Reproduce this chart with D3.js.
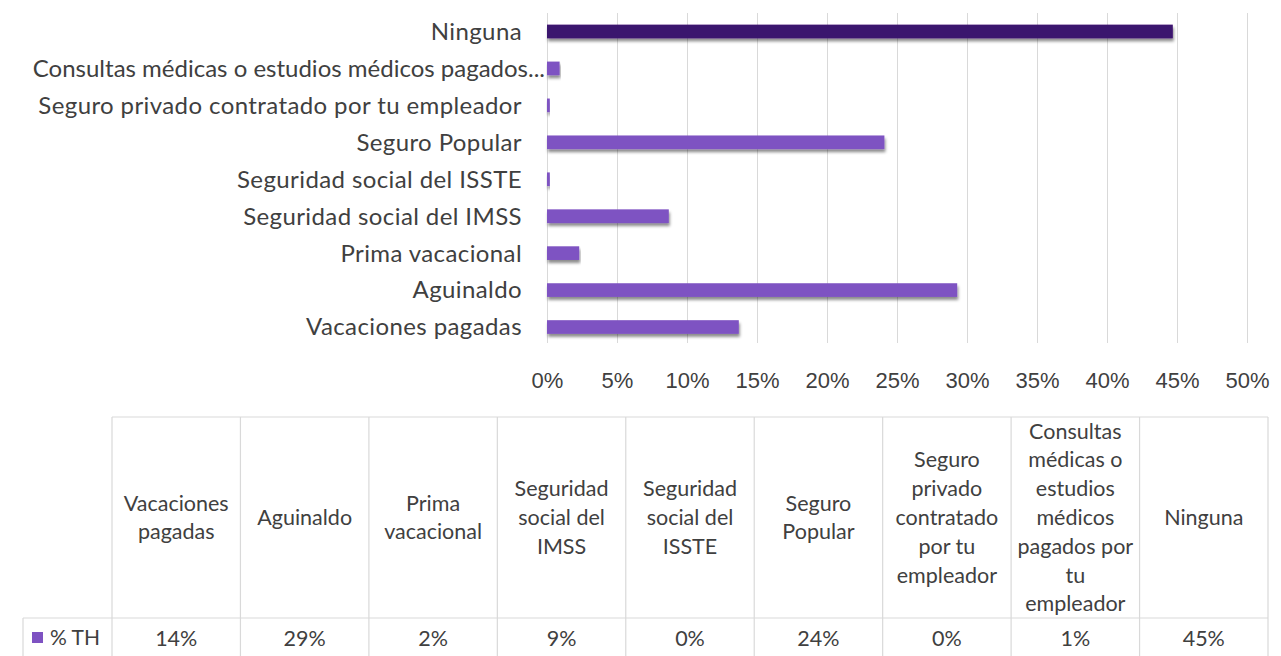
<!DOCTYPE html>
<html>
<head>
<meta charset="utf-8">
<script src="https://cdn.jsdelivr.net/npm/d3@7"></script>
<style>
  body { margin: 0; background: #fff; }
  svg { font-family: Lato, "Open Sans", sans-serif; }
</style>
</head>
<body>
<div id="chart"></div>
<script>
// categories in table order (bottom to top in the bar chart)
const categories = ["Vacaciones pagadas", "Aguinaldo", "Prima vacacional", "Seguridad social del IMSS", "Seguridad social del ISSTE", "Seguro Popular", "Seguro privado contratado por tu empleador", "Consultas médicas o estudios médicos pagados por tu empleador", "Ninguna"];
const barLabels = ["Vacaciones pagadas", "Aguinaldo", "Prima vacacional", "Seguridad social del IMSS", "Seguridad social del ISSTE", "Seguro Popular", "Seguro privado contratado por tu empleador", "Consultas médicas o estudios médicos pagados...", "Ninguna"];
const values = [13.7, 29.3, 2.3, 8.7, 0.2, 24.1, 0.2, 0.9, 44.7];
const tableValues = ["14%", "29%", "2%", "9%", "0%", "24%", "0%", "1%", "45%"];
const headerLines = [
	["Vacaciones", "pagadas"],
	["Aguinaldo"],
	["Prima", "vacacional"],
	["Seguridad", "social del", "IMSS"],
	["Seguridad", "social del", "ISSTE"],
	["Seguro", "Popular"],
	["Seguro", "privado", "contratado", "por tu", "empleador"],
	["Consultas", "médicas o", "estudios", "médicos", "pagados por", "tu", "empleador"],
	["Ninguna"],
];
const xTicks = [0, 5, 10, 15, 20, 25, 30, 35, 40, 45, 50];
const seriesName = "% TH";

const W = 1281, H = 656;
const textColor = "#404040";
const gridColor = "#d9d9d9";
const barColor = "#7e52c2";
const highlight = "#3b136e";

const svg = d3.select("#chart").append("svg").attr("width", W).attr("height", H);

// drop shadow under the bars
const defs = svg.append("defs");
defs.append("filter").attr("id", "shadow").attr("x", "-5%").attr("y", "-50%").attr("width", "110%").attr("height", "220%")
	.append("feDropShadow").attr("dx", 1).attr("dy", 3).attr("stdDeviation", 1.6)
	.attr("flood-color", "#000").attr("flood-opacity", 0.45);

// scales
const x = d3.scaleLinear().domain([0, 50]).range([547, 1247]);
const y = d3.scaleBand().domain(categories.slice().reverse()).range([13, 345.5]).paddingInner(0.63).paddingOuter(0.315);

// gridlines + tick labels
const xAxis = svg.append("g").attr("transform", "translate(0,343)")
	.call(d3.axisBottom(x).tickValues(xTicks).tickSize(-330).tickFormat((d) => d + "%"));
xAxis.select(".domain").remove();
xAxis.selectAll(".tick line").attr("stroke", gridColor);
xAxis.selectAll(".tick text").attr("fill", textColor).style("font-size", "22px").attr("y", 37).attr("dy", "0.35em");

// category labels (the truncated one runs past the gap, like Excel does)
const truncated = categories[7];
svg.append("g").selectAll("text").data(categories).join("text")
	.attr("x", (d) => (d === truncated ? 545 : 522))
	.attr("y", (d) => y(d) + y.bandwidth() / 2)
	.attr("dy", "0.35em")
	.attr("text-anchor", "end")
	.attr("fill", textColor)
	.style("font-size", "24px")
	.style("letter-spacing", (d) => (d === truncated ? "0px" : "0.4px"))
	.text((d, i) => barLabels[i]);

// bars
svg.append("g").selectAll("rect").data(categories).join("rect")
	.attr("x", x(0))
	.attr("y", (d) => y(d))
	.attr("width", (d, i) => x(values[i]) - x(0))
	.attr("height", y.bandwidth())
	.attr("fill", (d) => (d === "Ninguna" ? highlight : barColor))
	.attr("filter", "url(#shadow)");

// data table
const col = d3.scaleBand().domain(categories).range([112, 1268]);
const headTop = 417, headBottom = 618, rowBottom = 660;
const table = svg.append("g");
const line = (x1, y1, x2, y2) =>
	table.append("line").attr("x1", x1).attr("y1", y1).attr("x2", x2).attr("y2", y2).attr("stroke", gridColor).attr("stroke-width", 1.2);

line(112, headTop, 1268, headTop);
line(23, headBottom, 1268, headBottom);
line(23, headBottom, 23, rowBottom);
categories.forEach((c) => line(col(c), headTop, col(c), rowBottom));
line(1268, headTop, 1268, rowBottom);

const lineH = 28.8;
const head = table.selectAll(".head").data(categories).join("text")
	.attr("class", "head")
	.attr("text-anchor", "middle")
	.attr("fill", textColor)
	.style("font-size", "21.5px");
head.each(function (d, i) {
	const lines = headerLines[i];
	const cx = col(d) + col.bandwidth() / 2;
	const y0 = (headTop + headBottom) / 2 - ((lines.length - 1) * lineH) / 2;
	d3.select(this).selectAll("tspan").data(lines).join("tspan")
		.attr("x", cx)
		.attr("y", (l, j) => y0 + j * lineH)
		.attr("dy", "0.35em")
		.text((l) => l);
});

table.selectAll(".val").data(categories).join("text")
	.attr("class", "val")
	.attr("x", (d) => col(d) + col.bandwidth() / 2)
	.attr("y", 638)
	.attr("dy", "0.35em")
	.attr("text-anchor", "middle")
	.attr("fill", textColor)
	.style("font-size", "21.5px")
	.text((d, i) => tableValues[i]);

// legend key
table.append("rect").attr("x", 32).attr("y", 632).attr("width", 11).attr("height", 11).attr("fill", barColor);
table.append("text").attr("x", 50).attr("y", 638).attr("dy", "0.35em").attr("fill", textColor).style("font-size", "21px").text(seriesName);
</script>
</body>
</html>
